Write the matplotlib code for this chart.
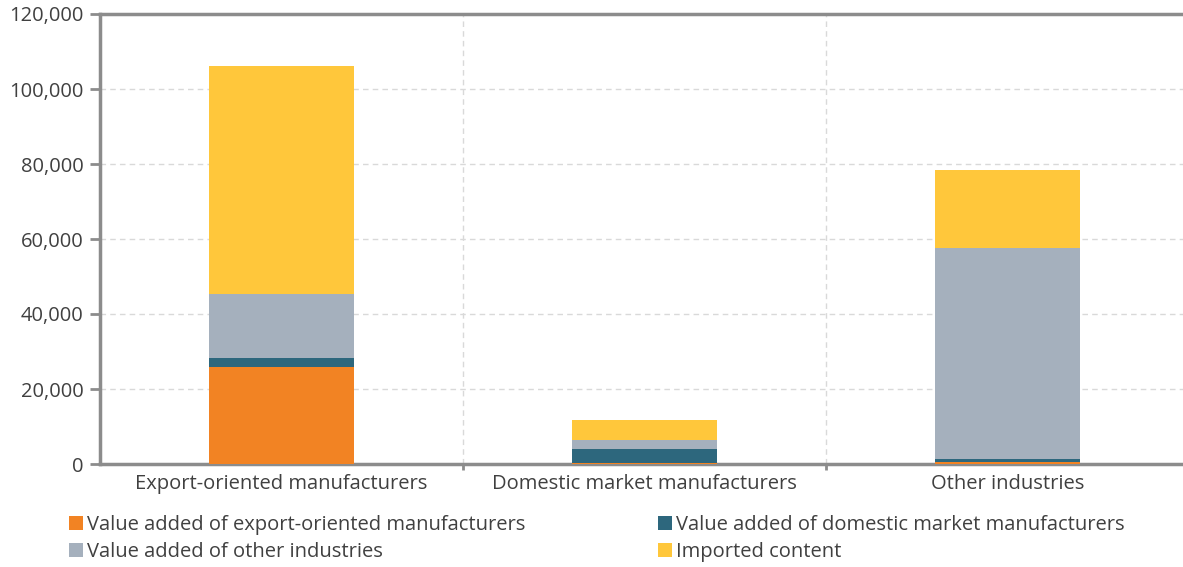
import matplotlib
matplotlib.use("Agg")
import matplotlib.pyplot as plt
from matplotlib.ticker import FuncFormatter, FixedLocator

categories = ["Export-oriented manufacturers", "Domestic market manufacturers", "Other industries"]
series = [
    "Value added of export-oriented manufacturers",
    "Value added of domestic market manufacturers",
    "Value added of other industries",
    "Imported content",
]
va_export = [26000, 300, 600]
va_domestic = [2300, 3700, 800]
va_other = [17000, 2400, 56200]
imported = [60800, 5300, 20800]
colors = ["#f28323", "#2d677d", "#a5b0bd", "#ffc73b"]

plt.rcParams["font.family"] = ["Open Sans", "DejaVu Sans"]
text_col = "#404040"
axis_col = "#8c8c8c"

fig = plt.figure(figsize=(11.83, 5.67), dpi=100)
ax = fig.add_axes([100 / 1183, (567 - 464) / 567, 1089 / 1183, 450 / 567])

x = list(range(len(categories)))
bottom = [0.0] * len(categories)
handles = []
for name, vals, c in zip(series, [va_export, va_domestic, va_other, imported], colors):
    h = ax.bar(x, vals, 0.4, bottom=bottom, color=c, label=name, zorder=3)
    handles.append(h)
    bottom = [b + v for b, v in zip(bottom, vals)]

ax.set_xlim(-0.5, 2.5)
ax.set_ylim(0, 120000)
ax.set_yticks(range(0, 120001, 20000))
ax.yaxis.set_major_formatter(FuncFormatter(lambda v, p: f"{int(v):,}"))
ax.set_xticks(x)
ax.set_xticklabels(categories, fontsize=14.5, color=text_col)
ax.xaxis.set_minor_locator(FixedLocator([0.5, 1.5]))
ax.tick_params(axis="x", which="major", length=0, pad=7)
ax.tick_params(axis="x", which="minor", length=4, width=2, color=axis_col, direction="out")
ax.tick_params(axis="y", length=7, width=2, color=axis_col, labelsize=14.5, labelcolor=text_col, pad=5)

ax.grid(axis="y", which="major", linestyle=(0, (4, 3)), color="#d9d9d9", linewidth=1, zorder=0)
ax.grid(axis="x", which="minor", linestyle=(0, (4, 3)), color="#d9d9d9", linewidth=1, zorder=0)

for s in ["left", "bottom", "top"]:
    ax.spines[s].set_color(axis_col)
    ax.spines[s].set_linewidth(2.5)
ax.spines["right"].set_visible(False)

# row-major legend order: matplotlib fills columns first
order = [0, 2, 1, 3]
ax.legend([handles[i] for i in order], [series[i] for i in order],
          loc="upper left", bbox_to_anchor=(-0.036, -0.095), ncol=2, frameon=False,
          fontsize=14.5, labelcolor=text_col, handlelength=0.7, handleheight=0.7,
          handletextpad=0.2, columnspacing=6.6, labelspacing=0.35, borderaxespad=0)

fig.savefig("out.png", dpi=100)
plt.close(fig)
